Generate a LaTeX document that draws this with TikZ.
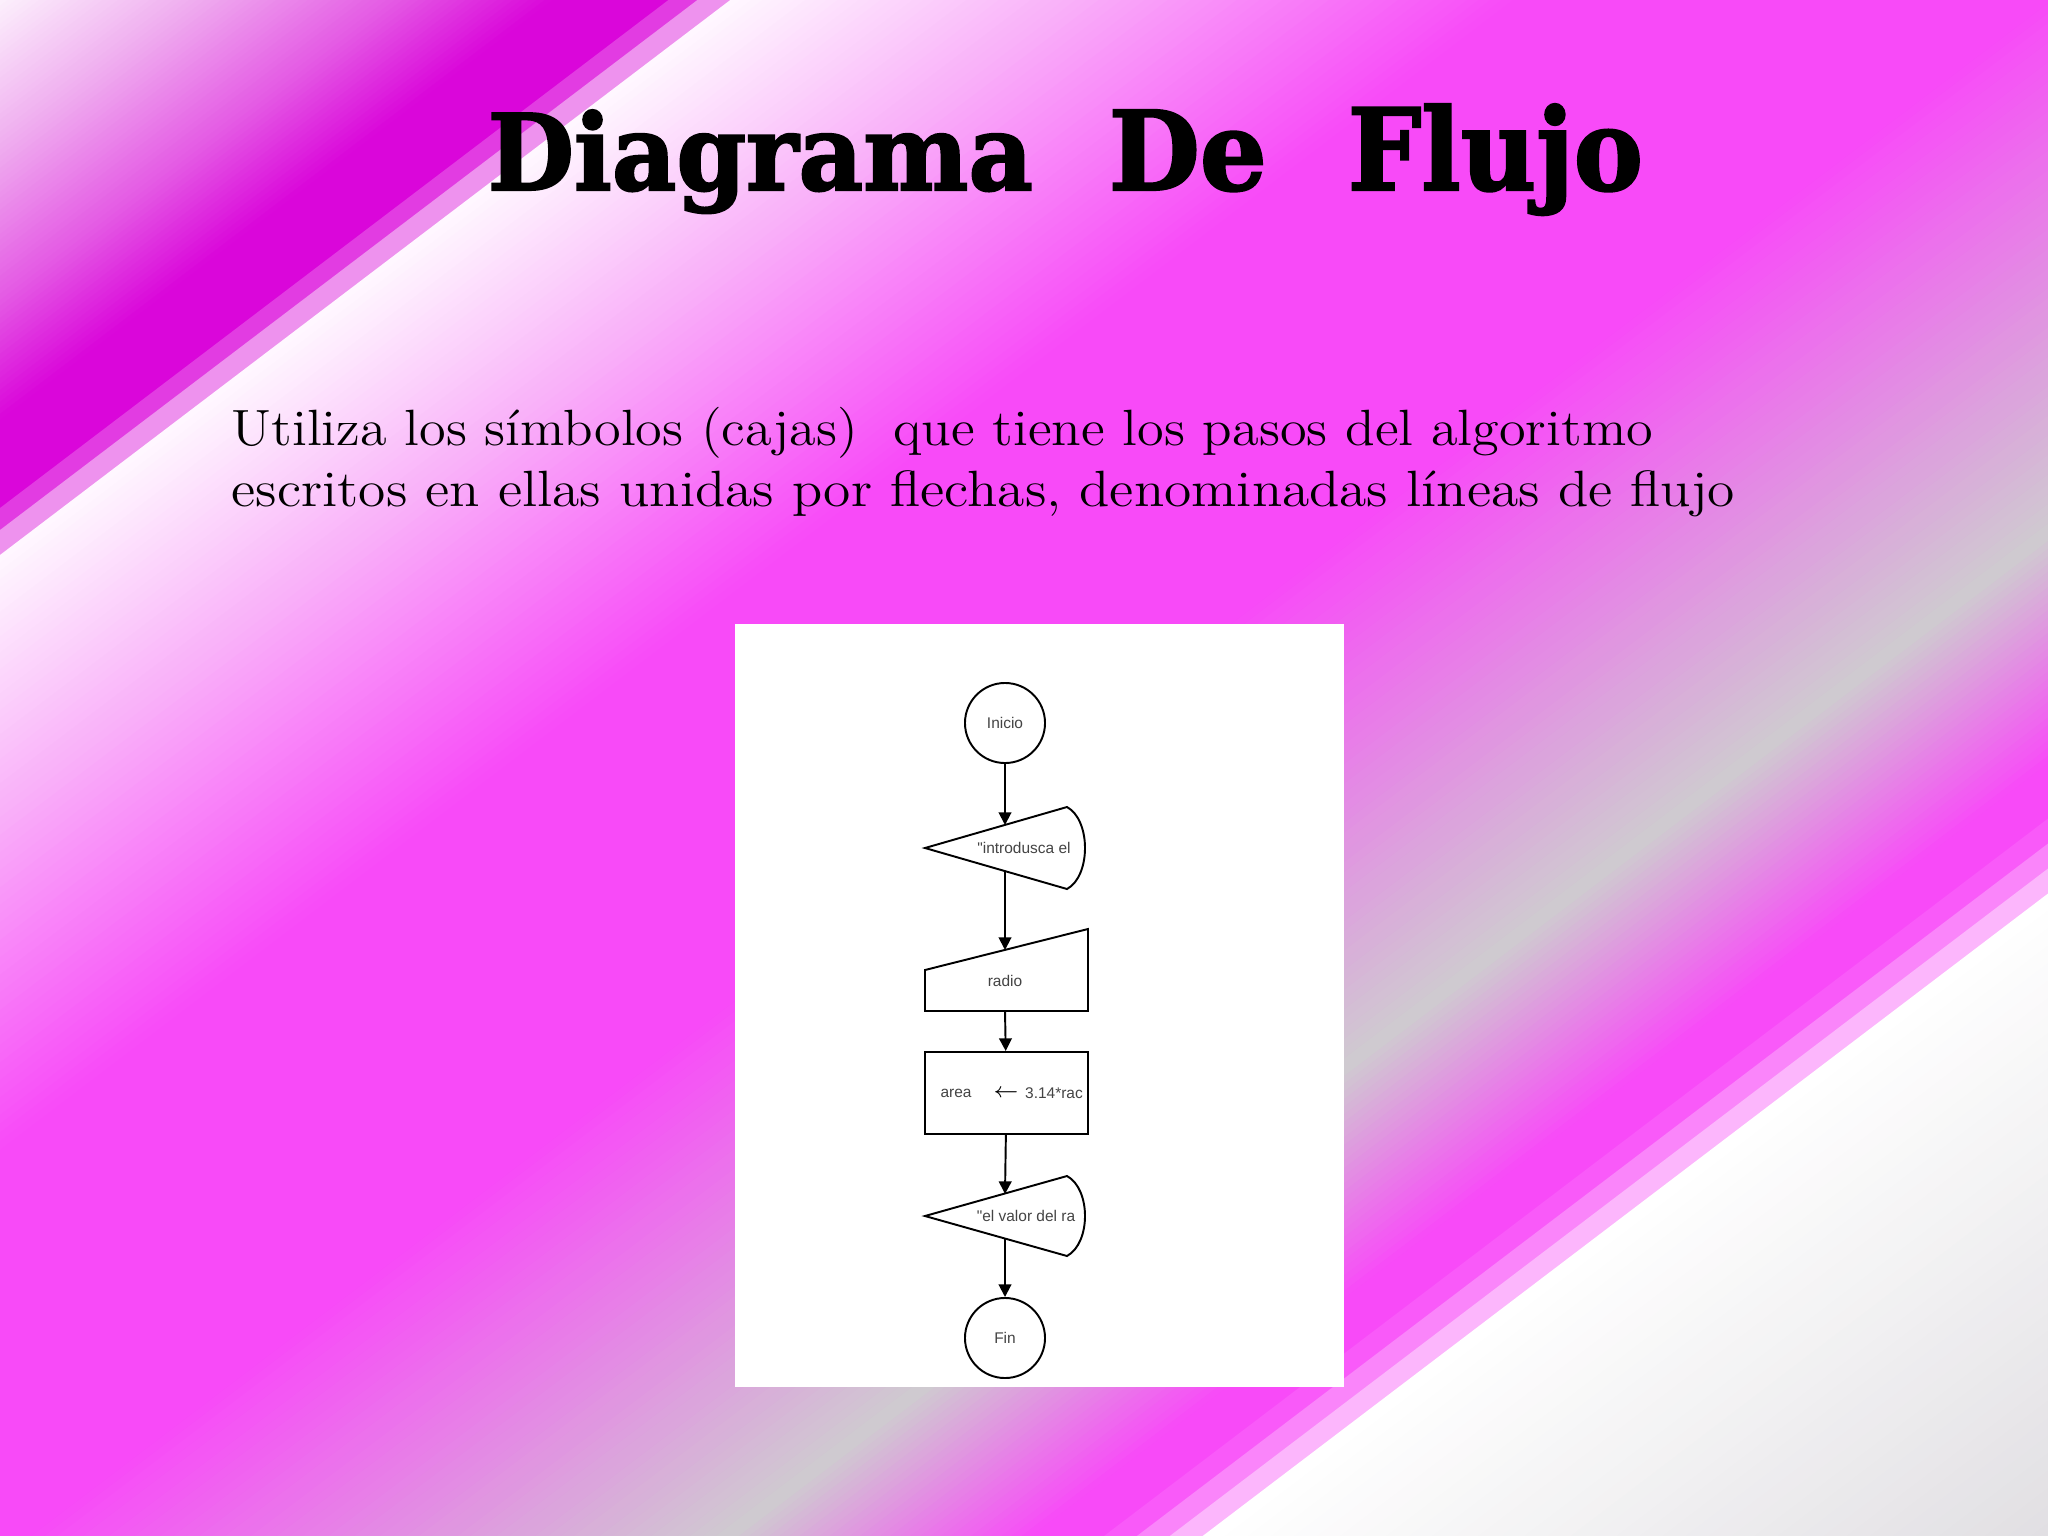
\documentclass[tikz,border=0pt]{standalone}
\usepackage{fontspec}
\usetikzlibrary{arrows.meta}
\newfontfamily\chartfont{Liberation Sans}
\newfontfamily\titlefont{DejaVu Serif}[UprightFont={* Bold}, FakeBold=2]

\definecolor{mag}{HTML}{F84AF8}
\definecolor{deepmag}{HTML}{DA06DA}
\definecolor{cornerpink}{HTML}{FCF0FC}
\definecolor{softmag}{HTML}{EFACEF}
\definecolor{midmag}{HTML}{E45AE4}
\definecolor{bandmag}{HTML}{E23CE2}
\definecolor{bandpink}{HTML}{EE92EE}
\definecolor{paleback}{HTML}{FFF8FF}
\definecolor{lightmag}{HTML}{F9B4F9}
\definecolor{slidegray}{HTML}{CFCBD0}
\definecolor{cornergray}{HTML}{DEDCE0}
\definecolor{chartink}{HTML}{444444}

% one diagonal band of the slide background, cut in thin strips
% #1,#2: start and end of the band, #3,#4: colours, #5: strips
\newcommand\slideband[5]{%
  \foreach \k in {1,...,#5}{%
    \pgfmathsetmacro\ua{#1+(#2-#1)/#5*(\k-1)}%
    \pgfmathsetmacro\ub{#1+(#2-#1)/#5*\k+1}%
    \pgfmathtruncatemacro\pct{100*(\k-0.5)/#5}%
    \fill[#4!\pct!#3] (-100,\ua+76) -- (2200,\ua-1672) -- (2200,\ub-1672) -- (-100,\ub+76) -- cycle;
  }}

\tikzset{
  flow/.style={line width=0.55pt, -{Triangle[width=3.6pt,length=3.6pt]}},
  boxline/.style={line width=0.55pt, draw=black},
  terminal/.style={circle, draw, line width=0.55pt, minimum size=0.8cm, inner sep=0pt,
    font=\chartfont\fontsize{4.4}{5}\selectfont, text=chartink},
  chartlabel/.style={font=\chartfont\fontsize{4.4}{5}\selectfont, text=chartink, inner sep=0pt},
  bodyline/.style={anchor=base west, inner sep=0pt, font=\fontsize{14.5}{17}\selectfont\addfontfeature{FakeBold=0.6}},
  titleword/.style={anchor=base west, inner sep=0pt}
}

\begin{document}
\begin{tikzpicture}[x=0.01cm,y=-0.01cm]
  \useasboundingbox (0,0) rectangle (2048,1536);
  \begin{scope}
    \clip (0,0) rectangle (2048,1536);
    % upper left corner
    \slideband{0}{150}{cornerpink}{softmag}{25}
    \slideband{150}{300}{softmag}{midmag}{25}
    \slideband{300}{420}{midmag}{deepmag}{20}
    \slideband{420}{508}{deepmag}{deepmag}{1}
    \slideband{508}{530}{bandmag}{bandmag}{1}
    \slideband{530}{555}{bandpink}{bandpink}{1}
    % middle
    \slideband{555}{800}{paleback}{lightmag}{30}
    \slideband{800}{1150}{lightmag}{mag}{40}
    \slideband{1150}{1550}{mag}{mag}{1}
    \slideband{1550}{2090}{mag}{slidegray}{55}
    \slideband{2090}{2320}{slidegray}{mag}{30}
    \slideband{2320}{2375}{mag}{mag}{1}
    % lower right corner
    \slideband{2375}{2400}{white!15!mag}{white!15!mag}{1}
    \slideband{2400}{2425}{white!45!mag}{white!45!mag}{1}
    \slideband{2425}{2450}{white!70!mag}{white!70!mag}{1}
    \slideband{2450}{3150}{white}{cornergray}{40}
  \end{scope}

  % title
  \node[titleword] (tdiagrama) at (487,190) {\resizebox{5.45cm}{0.8cm}{\titlefont Diagrama}};
  \node[titleword] (tde) at (1108,190) {\resizebox{1.58cm}{0.8cm}{\titlefont De}};
  \node[titleword] (tflujo) at (1347,190) {\resizebox{2.95cm}{0.86cm}{\titlefont Flujo}};

  % text
  \node[bodyline] (line1) at (231,445) {\scalebox{1.066}[1]{Utiliza los símbolos (cajas)~ que tiene los pasos del algoritmo}};
  \node[bodyline] (line2) at (231,506) {\scalebox{1.09}[1]{escritos en ellas unidas por flechas, denominadas líneas de flujo}};

  % flowchart
  \fill[white] (735,624) rectangle (1344,1387);

  \node[terminal] (inicio) at (1005,723) {Inicio};

  \draw[boxline] (925,848) -- (1067,807) .. controls (1091,820) and (1091,876) .. (1067,889) -- cycle;
  \node[chartlabel] (msg1) at (1024,848) {"introdusca el};
  \coordinate (d1in) at (1005,825);
  \coordinate (d1out) at (1005,871);

  \draw[boxline] (925,970) -- (1088,929) -- (1088,1011) -- (925,1011) -- cycle;
  \node[chartlabel] (radio) at (1005,981) {radio};
  \coordinate (m1in) at (1005,950);
  \coordinate (m1out) at (1005,1011);

  \node[draw, line width=0.55pt, minimum width=1.63cm, minimum height=0.82cm, inner sep=0pt] (calc) at (1006.5,1093) {};
  \node[chartlabel] (areavar) at (956,1093) {area};
  \node[chartlabel, font=\fontsize{6}{6}\selectfont, text=black] (assign) at (1006,1093) {$\leftarrow$};
  \node[chartlabel] (expr) at (1054,1093) {3.14*rac};

  \draw[boxline] (925,1216) -- (1067,1176) .. controls (1091,1189) and (1091,1243) .. (1067,1256) -- cycle;
  \node[chartlabel] (msg2) at (1026,1216) {"el valor del ra};
  \coordinate (d2in) at (1005,1194);
  \coordinate (d2out) at (1005,1239);

  \node[terminal] (fin) at (1005,1338) {Fin};

  \draw[flow] (inicio) -- (d1in);
  \draw[flow] (d1out) -- (m1in);
  \draw[flow] (m1out) -- (calc);
  \draw[flow] (calc) -- (d2in);
  \draw[flow] (d2out) -- (fin);
\end{tikzpicture}
\end{document}
